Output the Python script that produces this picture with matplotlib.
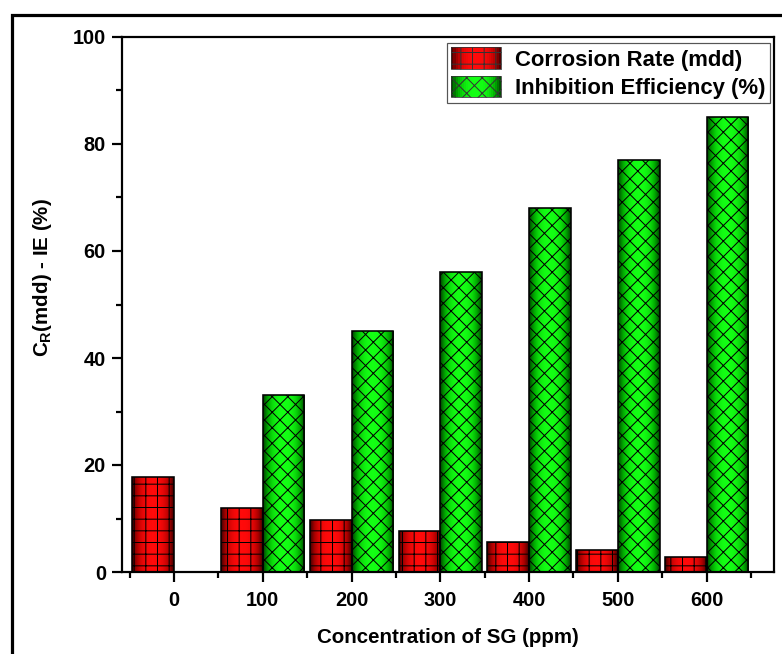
import numpy as np
import matplotlib
matplotlib.use("Agg")
import matplotlib.pyplot as plt
from matplotlib.colors import LinearSegmentedColormap
from matplotlib.patches import Rectangle, Patch
from matplotlib.legend_handler import HandlerBase
from matplotlib.ticker import MultipleLocator, FixedLocator

concentrations = ["0", "100", "200", "300", "400", "500", "600"]
corrosion_rate = [17.7, 11.9, 9.7, 7.6, 5.6, 4.1, 2.8]
inhibition_eff = [0, 33, 45, 56, 68, 77, 85]

DPI = 140


def pt(px):
    return px * 72.0 / DPI


plt.rcParams['font.family'] = 'Liberation Sans'
plt.rcParams['font.weight'] = 'bold'
plt.rcParams['mathtext.fontset'] = 'custom'
plt.rcParams['mathtext.rm'] = 'Liberation Sans:bold'
plt.rcParams['mathtext.bf'] = 'Liberation Sans:bold'
plt.rcParams['hatch.linewidth'] = pt(1.0)
plt.rcParams['hatch.color'] = '#1a1a1a'

red_cmap = LinearSegmentedColormap.from_list("r", ["#3c0000", "#b00000", "#ff0a0a"])
green_cmap = LinearSegmentedColormap.from_list("g", ["#003a00", "#00a800", "#14ff14"])

t = np.linspace(0, 1, 200)
profile = 1 - np.abs(2 * t - 1) ** 2.5


class GradientHandler(HandlerBase):
    # legend key: vertical strips for the shading, then a hatched box on top
    def __init__(self, cmap, hatch):
        super().__init__()
        self.cmap = cmap
        self.hatch = hatch

    def create_artists(self, legend, orig_handle, xdescent, ydescent, width, height, fontsize, trans):
        arts = []
        n = 24
        for i in range(n):
            v = 1 - abs(2 * (i + 0.5) / n - 1) ** 2.5
            r = Rectangle((-xdescent + width * i / n, -ydescent), width / n * 1.05, height,
                          facecolor=self.cmap(v), edgecolor='none', transform=trans)
            arts.append(r)
        arts.append(Rectangle((-xdescent, -ydescent), width, height, facecolor='none',
                              edgecolor='#333333', hatch=self.hatch, linewidth=pt(0.8), transform=trans))
        return arts


fig = plt.figure(figsize=(782 / DPI, 654 / DPI), dpi=DPI)
ax = fig.add_axes([122 / 782, 1 - 572 / 654, (774 - 122) / 782, (572 - 37) / 654])

x = np.arange(len(concentrations))
w = 0.47

b1 = ax.bar(x, corrosion_rate, width=-w, align='edge', facecolor='none',
            edgecolor='black', linewidth=pt(1.6), hatch='++', zorder=3)
b2 = ax.bar(x, inhibition_eff, width=w, align='edge', facecolor='none',
            edgecolor='black', linewidth=pt(1.6), hatch='xxx', zorder=3)

for bars, cmap in [(b1, red_cmap), (b2, green_cmap)]:
    for p in bars:
        if p.get_height() <= 0:
            continue
        x0, y0 = p.get_x(), p.get_y()
        pw, ph = p.get_width(), p.get_height()
        im = ax.imshow(profile[np.newaxis, :], extent=[min(x0, x0 + pw), max(x0, x0 + pw), y0, y0 + ph],
                       cmap=cmap, aspect='auto', vmin=0, vmax=1, zorder=2, interpolation='bilinear')
        im.set_clip_path(p)

ax.set_xlim(-0.586, 6.76)
ax.set_ylim(0, 100)
ax.xaxis.set_major_locator(FixedLocator(x))
ax.set_xticklabels(concentrations)
ax.xaxis.set_minor_locator(FixedLocator(np.arange(-0.5, 7, 1.0)))
ax.yaxis.set_major_locator(MultipleLocator(20))
ax.yaxis.set_minor_locator(MultipleLocator(10))

for s in ax.spines.values():
    s.set_linewidth(pt(2.2))
ax.tick_params(which='major', direction='out', length=pt(10), width=pt(2.2),
               labelsize=pt(20), pad=pt(6))
ax.tick_params(which='minor', direction='out', length=pt(6), width=pt(2.2))
ax.tick_params(axis='x', which='major', pad=pt(9))

ax.set_xlabel("Concentration of SG (ppm)", fontsize=pt(20.5), fontweight='bold', labelpad=pt(18))
ax.set_ylabel(r"C$_\mathbf{R}$(mdd) - IE (%)", fontsize=pt(20.5), fontweight='bold')
ax.yaxis.set_label_coords(-0.105, 0.55)

h1, h2 = Patch(), Patch()
leg = ax.legend([h1, h2], ["Corrosion Rate (mdd)", "Inhibition Efficiency (%)"],
                handler_map={h1: GradientHandler(red_cmap, '++'), h2: GradientHandler(green_cmap, 'xxx')},
                loc='upper right', bbox_to_anchor=(1 - 4 / 652, 1 - 6 / 535),
                prop={'size': pt(22.2), 'weight': 'bold'}, fancybox=False, framealpha=1,
                edgecolor='#555555', handlelength=2.25, handleheight=1.1, handletextpad=0.62,
                borderpad=0.2, labelspacing=0.22, borderaxespad=0)
leg.get_frame().set_linewidth(pt(1.2))

fig.add_artist(Rectangle((12 / 782, -0.1), 1.2, 1 - 15 / 654 + 0.1, transform=fig.transFigure,
                         fill=False, edgecolor='black', linewidth=pt(3.2)))

fig.savefig("out.png", dpi=DPI)
